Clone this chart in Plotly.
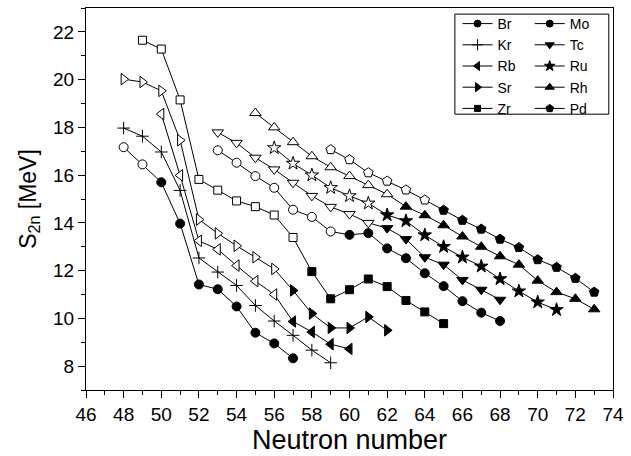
import plotly.graph_objects as go

# ---- data: neutron number N and two-neutron separation energy S2n (MeV) ----
N_Br = [48, 49, 50, 51, 52, 53, 54, 55, 56, 57]
S_Br = [17.17, 16.45, 15.70, 13.97, 11.42, 11.22, 10.50, 9.40, 8.95, 8.33]
open_Br = 2

N_Kr = [48, 49, 50, 51, 52, 53, 54, 55, 56, 57, 58, 59]
S_Kr = [17.97, 17.63, 16.97, 15.36, 12.53, 11.94, 11.38, 10.54, 9.89, 9.29, 8.67, 8.14]
open_Kr = 0

N_Rb = [50, 51, 52, 53, 54, 55, 56, 57, 58, 59, 60]
S_Rb = [18.56, 15.99, 13.25, 12.89, 12.21, 11.56, 11.00, 9.87, 9.43, 8.92, 8.72]
open_Rb = 7

N_Sr = [48, 49, 50, 51, 52, 53, 54, 55, 56, 57, 58, 59, 60, 61, 62]
S_Sr = [20.02, 19.90, 19.53, 17.46, 14.14, 13.56, 13.04, 12.56, 12.07, 11.17, 10.20, 9.60, 9.60, 10.06, 9.50]
open_Sr = 9

N_Zr = [49, 50, 51, 52, 53, 54, 55, 56, 57, 58, 59, 60, 61, 62, 63, 64, 65]
S_Zr = [21.65, 21.28, 19.15, 15.82, 15.37, 14.92, 14.68, 14.33, 13.39, 11.96, 10.82, 11.20, 11.65, 11.33, 10.75, 10.27, 9.78]
open_Zr = 9

N_Mo = [53, 54, 55, 56, 57, 58, 59, 60, 61, 62, 63, 64, 65, 66, 67, 68]
S_Mo = [17.04, 16.52, 15.96, 15.47, 14.55, 14.25, 13.64, 13.50, 13.57, 12.93, 12.52, 11.89, 11.35, 10.72, 10.24, 9.89]
open_Mo = 7

N_Tc = [53, 54, 55, 56, 57, 58, 59, 60, 61, 62, 63, 64, 65, 66, 67, 68]
S_Tc = [17.79, 17.35, 16.73, 16.24, 15.68, 15.13, 14.67, 14.37, 14.00, 13.78, 13.32, 12.56, 12.25, 11.61, 11.20, 10.78]
open_Tc = 9

N_Ru = [56, 57, 58, 59, 60, 61, 62, 63, 64, 65, 66, 67, 68, 69, 70, 71]
S_Ru = [17.14, 16.49, 16.00, 15.47, 15.13, 14.82, 14.33, 14.08, 13.49, 13.00, 12.56, 12.18, 11.65, 11.14, 10.68, 10.36]
open_Ru = 6

N_Rh = [55, 56, 57, 58, 59, 60, 61, 62, 63, 64, 65, 66, 67, 68, 69, 70, 71, 72, 73]
S_Rh = [18.60, 18.00, 17.38, 16.79, 16.33, 15.96, 15.58, 15.20, 14.68, 14.32, 13.90, 13.43, 13.00, 12.60, 12.25, 11.58, 11.10, 10.82, 10.38]
open_Rh = 8

N_Pd = [59, 60, 61, 62, 63, 64, 65, 66, 67, 68, 69, 70, 71, 72, 73]
S_Pd = [17.07, 16.65, 16.10, 15.75, 15.38, 14.96, 14.53, 14.11, 13.74, 13.32, 12.97, 12.46, 12.14, 11.68, 11.10]
open_Pd = 6

X_TICKS = [46, 48, 50, 52, 54, 56, 58, 60, 62, 64, 66, 68, 70, 72, 74]
Y_TICKS = [8, 10, 12, 14, 16, 18, 20, 22]

series = [
    ("Br", N_Br, S_Br, open_Br, "circle", 9, "legend"),
    ("Kr", N_Kr, S_Kr, open_Kr, "cross-thin", 9, "legend"),
    ("Rb", N_Rb, S_Rb, open_Rb, "triangle-left", 10, "legend"),
    ("Sr", N_Sr, S_Sr, open_Sr, "triangle-right", 10, "legend"),
    ("Zr", N_Zr, S_Zr, open_Zr, "square", 8, "legend"),
    ("Mo", N_Mo, S_Mo, open_Mo, "circle", 9, "legend2"),
    ("Tc", N_Tc, S_Tc, open_Tc, "triangle-down", 10, "legend2"),
    ("Ru", N_Ru, S_Ru, open_Ru, "star", 10, "legend2"),
    ("Rh", N_Rh, S_Rh, open_Rh, "triangle-up", 10, "legend2"),
    ("Pd", N_Pd, S_Pd, open_Pd, "pentagon", 10, "legend2"),
]

FONT = "Arial, Liberation Sans, sans-serif"
fig = go.Figure()
for name, xs, ys, n_open, sym, size, leg in series:
    colors = ["white"] * n_open + ["black"] * (len(xs) - n_open)
    fig.add_trace(go.Scatter(
        x=xs, y=ys, mode="lines+markers", name=name, showlegend=False,
        line=dict(color="black", width=1),
        marker=dict(symbol=sym, size=size, color=colors,
                    line=dict(color="black", width=1)),
    ))
    fig.add_trace(go.Scatter(
        x=[None], y=[None], mode="lines+markers", name=name, legend=leg,
        line=dict(color="black", width=1),
        marker=dict(symbol=sym, size=size - 2 if sym != "cross-thin" else size - 1,
                    color="black", line=dict(color="black", width=1)),
    ))

legend_common = dict(
    bgcolor="rgba(0,0,0,0)", borderwidth=0, itemwidth=30,
    font=dict(family=FONT, size=14, color="black"),
    xanchor="left", yanchor="top", tracegroupgap=0,
)

fig.update_layout(
    width=631, height=456,
    margin=dict(l=86, r=15, t=7, b=64),
    paper_bgcolor="white", plot_bgcolor="white",
    font=dict(family=FONT, color="black"),
    legend=dict(x=0.705, y=1.0, **legend_common),
    legend2=dict(x=0.842, y=1.0, **legend_common),
    shapes=[dict(type="rect", xref="paper", yref="paper",
                 x0=0.70, x1=0.992, y0=0.722, y1=0.984,
                 line=dict(color="black", width=1))],
)
fig.update_xaxes(
    range=[46, 74], tickvals=X_TICKS, ticks="outside", ticklen=7, tickwidth=1,
    tickcolor="black", minor=dict(dtick=1, ticks="outside", ticklen=4, tickcolor="black"),
    showline=True, linecolor="black", linewidth=1, mirror=True, showgrid=False,
    zeroline=False, tickfont=dict(size=19, family=FONT),
    title=dict(text="Neutron number", font=dict(size=27, family=FONT), standoff=5),
)
fig.update_yaxes(
    range=[7, 23], tickvals=Y_TICKS, ticks="outside", ticklen=7, tickwidth=1,
    tickcolor="black", minor=dict(dtick=1, ticks="outside", ticklen=4, tickcolor="black"),
    showline=True, linecolor="black", linewidth=1, mirror=True, showgrid=False,
    zeroline=False, tickfont=dict(size=19, family=FONT),
    title=dict(text="S<sub>2n</sub> [MeV]", font=dict(size=23, family=FONT), standoff=10),
)

fig.write_html("out.html")
